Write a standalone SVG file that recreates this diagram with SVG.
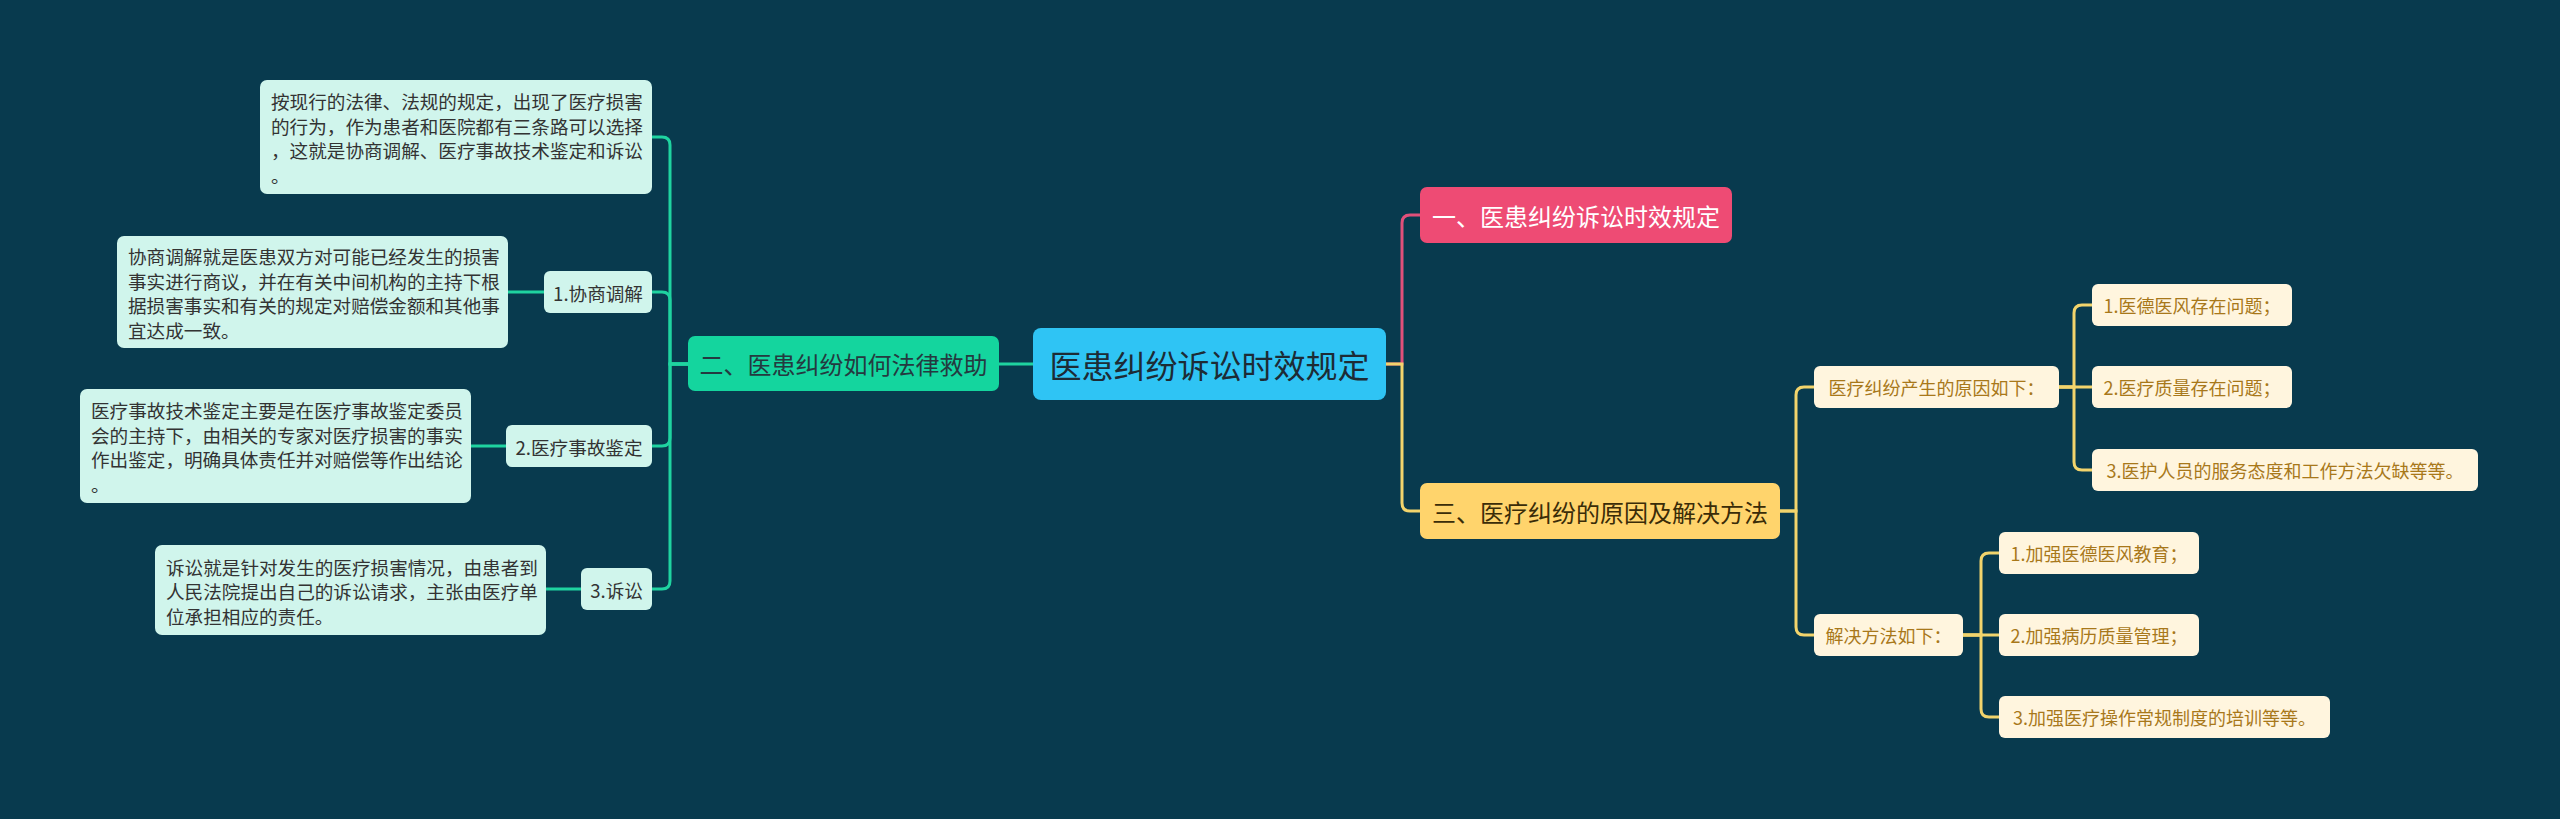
<svg xmlns="http://www.w3.org/2000/svg" width="2560" height="819" viewBox="0 0 2560 819">
<style>
text{font-family:"Noto Sans CJK SC","Noto Sans",sans-serif;}
.c{dominant-baseline:central;}
.m{text-anchor:middle;}
.mint{fill:#d0f5ec;}
.mt{fill:#333333;font-size:18.6px;}
.cream{fill:#fff5de;}
.ct{fill:#a8781a;font-size:18px;}
.lg{fill:none;stroke:#1fd3a0;stroke-width:3;stroke-linecap:round;}
.ly{fill:none;stroke:#f2d46c;stroke-width:3;stroke-linecap:round;}
.lp{fill:none;stroke:#e0507a;stroke-width:3;stroke-linecap:round;}
</style>
<rect x="0" y="0" width="2560" height="819" fill="#083a4e"/>
<g id="connectors">
<path class="lg" d="M1033,364 H999"/>
<path class="lg" d="M688,364 H670 V145 Q670,137 662,137 H652"/>
<path class="lg" d="M688,364 H670 V300 Q670,292 662,292 H652"/>
<path class="lg" d="M688,364 H670 V438 Q670,446 662,446 H652"/>
<path class="lg" d="M688,364 H670 V581 Q670,589 662,589 H652"/>
<path class="lg" d="M544,292 H508"/>
<path class="lg" d="M506,446 H471"/>
<path class="lg" d="M581,589 H546"/>
<path class="lp" d="M1386,364 H1402 V223 Q1402,215 1410,215 H1420"/>
<path class="ly" d="M1386,364 H1402 V503 Q1402,511 1410,511 H1420"/>
<path class="ly" d="M1780,511 H1796 V395 Q1796,387 1804,387 H1814"/>
<path class="ly" d="M1780,511 H1796 V627 Q1796,635 1804,635 H1814"/>
<path class="ly" d="M2059,387 H2074 V313 Q2074,305 2082,305 H2092"/>
<path class="ly" d="M2059,387 H2092"/>
<path class="ly" d="M2059,387 H2074 V462 Q2074,470 2082,470 H2092"/>
<path class="ly" d="M1963,635 H1981 V561 Q1981,553 1989,553 H1999"/>
<path class="ly" d="M1963,635 H1999"/>
<path class="ly" d="M1963,635 H1981 V709 Q1981,717 1989,717 H1999"/>
</g>
<g id="root">
<rect x="1033" y="328" width="353" height="72" rx="8" fill="#2fc4f4"/>
<text class="c m" x="1209.5" y="364" font-size="32" fill="#1d2b35">医患纠纷诉讼时效规定</text>
</g>
<g id="n1">
<rect x="1420" y="187" width="312" height="56" rx="7" fill="#ee4b74"/>
<text class="c m" x="1576" y="215" font-size="24" fill="#ffffff">一、医患纠纷诉讼时效规定</text>
</g>
<g id="n2">
<rect x="688" y="336" width="311" height="55" rx="7" fill="#14d59e"/>
<text class="c m" x="843.5" y="363.5" font-size="24" fill="#243a40">二、医患纠纷如何法律救助</text>
</g>
<g id="n3">
<rect x="1420" y="483" width="360" height="56" rx="7" fill="#ffd46c"/>
<text class="c m" x="1600" y="511" font-size="24" fill="#3a2c08">三、医疗纠纷的原因及解决方法</text>
</g>
<g id="n2a">
<rect class="mint" x="260" y="80" width="392" height="114" rx="7"/>
<text class="mt c" x="271">
<tspan x="271" y="100">按现行的法律、法规的规定，出现了医疗损害</tspan>
<tspan x="271" y="125">的行为，作为患者和医院都有三条路可以选择</tspan>
<tspan x="271" y="149">，这就是协商调解、医疗事故技术鉴定和诉讼</tspan>
<tspan x="271" y="174">。</tspan>
</text>
</g>
<g id="n2b">
<rect class="mint" x="544" y="271" width="108" height="42" rx="6"/>
<text class="mt c m" x="598" y="292" font-size="18">1.协商调解</text>
</g>
<g id="n2b1">
<rect class="mint" x="117" y="236" width="391" height="112" rx="7"/>
<text class="mt c" x="128">
<tspan x="128" y="255">协商调解就是医患双方对可能已经发生的损害</tspan>
<tspan x="128" y="280">事实进行商议，并在有关中间机构的主持下根</tspan>
<tspan x="128" y="304">据损害事实和有关的规定对赔偿金额和其他事</tspan>
<tspan x="128" y="329">宜达成一致。</tspan>
</text>
</g>
<g id="n2c">
<rect class="mint" x="506" y="425" width="146" height="42" rx="6"/>
<text class="mt c m" x="579" y="446" font-size="18">2.医疗事故鉴定</text>
</g>
<g id="n2c1">
<rect class="mint" x="80" y="389" width="391" height="114" rx="7"/>
<text class="mt c" x="91">
<tspan x="91" y="409">医疗事故技术鉴定主要是在医疗事故鉴定委员</tspan>
<tspan x="91" y="434">会的主持下，由相关的专家对医疗损害的事实</tspan>
<tspan x="91" y="458">作出鉴定，明确具体责任并对赔偿等作出结论</tspan>
<tspan x="91" y="483">。</tspan>
</text>
</g>
<g id="n2d">
<rect class="mint" x="581" y="568" width="71" height="42" rx="6"/>
<text class="mt c m" x="616.5" y="589" font-size="18">3.诉讼</text>
</g>
<g id="n2d1">
<rect class="mint" x="155" y="545" width="391" height="90" rx="7"/>
<text class="mt c" x="166">
<tspan x="166" y="565.5">诉讼就是针对发生的医疗损害情况，由患者到</tspan>
<tspan x="166" y="590">人民法院提出自己的诉讼请求，主张由医疗单</tspan>
<tspan x="166" y="614.5">位承担相应的责任。</tspan>
</text>
</g>
<g id="n3a">
<rect class="cream" x="1814" y="366" width="245" height="42" rx="6"/>
<text class="ct c m" x="1936.5" y="387">医疗纠纷产生的原因如下：</text>
</g>
<g id="n3a1">
<rect class="cream" x="2092" y="284" width="200" height="42" rx="6"/>
<text class="ct c m" x="2192" y="305">1.医德医风存在问题；</text>
</g>
<g id="n3a2">
<rect class="cream" x="2092" y="366" width="200" height="42" rx="6"/>
<text class="ct c m" x="2192" y="387">2.医疗质量存在问题；</text>
</g>
<g id="n3a3">
<rect class="cream" x="2092" y="449" width="386" height="42" rx="6"/>
<text class="ct c m" x="2285" y="470">3.医护人员的服务态度和工作方法欠缺等等。</text>
</g>
<g id="n3b">
<rect class="cream" x="1814" y="614" width="149" height="42" rx="6"/>
<text class="ct c m" x="1888.5" y="635">解决方法如下：</text>
</g>
<g id="n3b1">
<rect class="cream" x="1999" y="532" width="200" height="42" rx="6"/>
<text class="ct c m" x="2099" y="553">1.加强医德医风教育；</text>
</g>
<g id="n3b2">
<rect class="cream" x="1999" y="614" width="200" height="42" rx="6"/>
<text class="ct c m" x="2099" y="635">2.加强病历质量管理；</text>
</g>
<g id="n3b3">
<rect class="cream" x="1999" y="696" width="331" height="42" rx="6"/>
<text class="ct c m" x="2164.5" y="717">3.加强医疗操作常规制度的培训等等。</text>
</g>
</svg>
